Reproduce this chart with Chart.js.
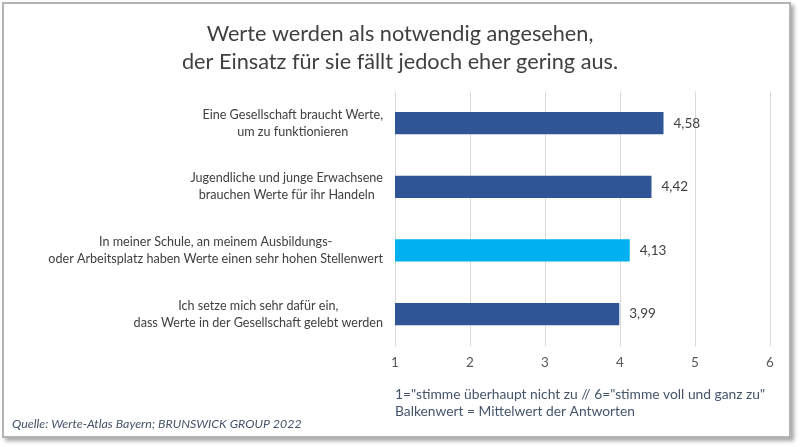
<!DOCTYPE html>
<html>
<head>
<meta charset="utf-8">
<script src="https://cdn.jsdelivr.net/npm/chart.js@4"></script>
<style>
  body { margin: 0; background: #fff; }
  #wrap { position: relative; width: 800px; height: 447px; }
  #frame {
    position: absolute; left: 2px; top: 2px; width: 785px; height: 432px;
    border: 2px solid #b4b4b4; background: #fff;
    box-shadow: 3px 3px 4px rgba(0,0,0,0.35);
  }
  canvas { position: absolute; left: 0; top: 0; }
</style>
</head>
<body>
<div id="wrap">
  <div id="frame"></div>
  <canvas id="chart" width="800" height="447"></canvas>
</div>
<script>
// --- DATEN ---
const categories = [
  ["Eine Gesellschaft braucht Werte,", "um zu funktionieren"],
  ["Jugendliche und junge Erwachsene", "brauchen Werte für ihr Handeln"],
  ["In meiner Schule, an meinem Ausbildungs-", "oder Arbeitsplatz haben Werte einen sehr hohen Stellenwert"],
  ["Ich setze mich sehr dafür ein,", "dass Werte in der Gesellschaft gelebt werden"]
];
const values = [4.58, 4.42, 4.13, 3.99];
const barColors = ["#2F5597", "#2F5597", "#00B0F0", "#2F5597"];
const titleLines = ["Werte werden als notwendig angesehen,", "der Einsatz für sie fällt jedoch eher gering aus."];
const footnote = ['1="stimme überhaupt nicht zu // 6="stimme voll und ganz zu"', "Balkenwert = Mittelwert der Antworten"];
const sourceText = "Quelle: Werte-Atlas Bayern; BRUNSWICK GROUP 2022";

const FONT = "Lato, 'Open Sans', sans-serif";

// Beschriftungen links (Blöcke rechtsbündig, Zeilen zentriert) + Werte + Quelle
const labelsPlugin = {
  id: 'labels',
  afterDraw(chart) {
    const ctx = chart.ctx;
    const y = chart.scales.y;
    const right = chart.chartArea.left - 12;

    ctx.save();
    ctx.font = "12.6px " + FONT;
    ctx.fillStyle = "#404040";
    ctx.textBaseline = "middle";
    categories.forEach((lines, i) => {
      const cy = y.getPixelForValue(i);
      const w = Math.max(...lines.map(l => ctx.measureText(l).width));
      const cx = right - w / 2;
      ctx.textAlign = "center";
      lines.forEach((l, j) => {
        ctx.fillText(l, cx, cy + (j - (lines.length - 1) / 2) * 17);
      });
    });

    // Werte an den Balken
    ctx.font = "13.5px " + FONT;
    ctx.textAlign = "left";
    chart.getDatasetMeta(0).data.forEach((bar, i) => {
      ctx.fillText(values[i].toFixed(2).replace(".", ","), bar.x + 10, bar.y);
    });

    // Quelle
    ctx.font = "italic 12.4px " + FONT;
    ctx.fillStyle = "#44546A";
    ctx.fillText(sourceText, 12, 424);
    ctx.restore();
  }
};

new Chart(document.getElementById("chart"), {
  type: 'bar',
  data: {
    labels: categories,
    datasets: [{
      data: values,
      backgroundColor: barColors,
      barPercentage: 0.35,
      categoryPercentage: 1
    }]
  },
  options: {
    indexAxis: 'y',
    responsive: false,
    animation: false,
    layout: { padding: { left: 30, right: 30, top: 0, bottom: 27 } },
    plugins: {
      legend: { display: false },
      tooltip: { enabled: false },
      title: {
        display: true,
        text: titleLines,
        color: "#404040",
        font: { family: FONT, size: 21.7, weight: 'normal', lineHeight: 1.3 },
        padding: { top: 20, bottom: 15 }
      }
    },
    scales: {
      x: {
        min: 1,
        max: 6,
        ticks: { stepSize: 1, color: "#595959", padding: 9, font: { family: FONT, size: 13.5 } },
        grid: { color: "#d9d9d9", drawTicks: false },
        border: { display: false },
        title: {
          display: true,
          text: footnote,
          align: 'start',
          color: "#44546A",
          font: { family: FONT, size: 13.8, lineHeight: 1.23 },
          padding: { top: 6, bottom: 0 }
        }
      },
      y: {
        ticks: { display: false },
        grid: { display: false },
        border: { display: false },
        afterFit(scale) { scale.width = 365; }
      }
    }
  },
  plugins: [labelsPlugin]
});
</script>
</body>
</html>
